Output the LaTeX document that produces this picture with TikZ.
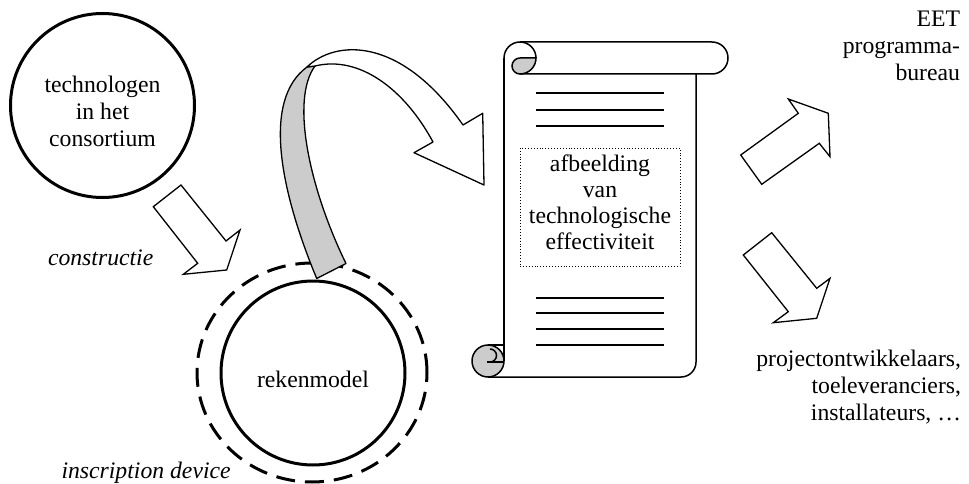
\documentclass[tikz,border=0pt]{standalone}
\usepackage{fontspec}
\setmainfont{Liberation Serif}
\usetikzlibrary{shapes.geometric}
\definecolor{curlgray}{RGB}{204,204,204}
\begin{document}
\begin{tikzpicture}[x=1pt,y=-1pt,
  every node/.style={font=\fontsize{23.7}{27}\selectfont, inner sep=0pt, outer sep=0pt},
  ring/.style={circle, draw, line width=3pt, minimum size=184pt},
  devicering/.style={ellipse, draw, line width=3pt, dash pattern=on 19pt off 10pt,
                     minimum width=230pt, minimum height=219pt},
  blockarrow/.style={draw, fill=white, line width=1.3pt, line join=miter},
  ribbon/.style={draw, line width=1.3pt, line join=round},
  scrollpart/.style={draw, line width=1.5pt},
  textline/.style={line width=1.8pt},
  caption/.style={align=center},
  sidelabel/.style={align=right, anchor=north east}]
\useasboundingbox (0,0) rectangle (969,484);

% --- actors -------------------------------------------------------------
\node[ring] (tech) at (102.5,105.5) {};
\node[caption] (techtext) at (102.5,111) {technologen\\in het\\consortium};

\node[devicering] (device) at (312,372.5) {};
\node[ring] (model) at (313,373) {};
\node (modeltext) at (313,379) {rekenmodel};

\node[anchor=base west, font=\fontsize{23.7}{27}\selectfont\itshape] (constr) at (48,265) {constructie};
\node[anchor=base west, font=\fontsize{23.7}{27}\selectfont\itshape] (inscr) at (61.5,478) {inscription device};

% --- block arrow: construction ----------------------------------------
\draw[blockarrow] (153.3,206.7) -- (181,185) -- (226,241) -- (240,230)
  -- (226.7,270) -- (183.3,274.3) -- (197.7,263.3) -- cycle;

% --- twisted ribbon arrow from the model to the scroll ------------------
\filldraw[ribbon, fill=curlgray] (316.7,278.5) .. controls (280,190) and (262,100) .. (307,67)
  -- (315,66) .. controls (290,100) and (310,190) .. (346,263.5) -- cycle;
\filldraw[ribbon, fill=white] (307,67) .. controls (335,40) and (400,35) .. (463,125)
  -- (482.7,113.3) -- (484,185) -- (414,152.7) -- (433,142)
  .. controls (405,90) and (360,55) .. (315,66) -- cycle;

% --- scroll ----------------------------------------------------------------
% top roll
\draw[scrollpart] (520,42) -- (712,42) arc[start angle=-90, end angle=90, radius=16] -- (520,74);
\draw[scrollpart] (504,58) arc[start angle=180, end angle=360, radius=16];
\filldraw[scrollpart, fill=curlgray] (536,58) arc[start angle=0, end angle=90, radius=16]
  arc[start angle=90, end angle=270, radius=8] -- cycle;
% sheet
\draw[scrollpart] (504,58) -- (504,361);
\draw[scrollpart] (696,74) -- (696,362) arc[start angle=0, end angle=90, radius=15] -- (488,377);
% bottom curl
\filldraw[scrollpart, fill=curlgray] (488,361) circle[radius=16];
\draw[scrollpart] (488,345) -- (504,345);
\draw[scrollpart] (487,362) -- (504,362);
\draw[scrollpart] (490,362) arc[start angle=90, end angle=-90, radius=6.5];
% text lines
\foreach \yy in {93.3,110,126,297.7,313.3,329,345}
  \draw[textline] (536,\yy) -- (664,\yy);
% picture frame with its caption
\node[draw, dotted, line width=0.9pt, minimum width=160pt, minimum height=118pt] (figure) at (600,207) {};
\node[caption, font=\fontsize{23.7}{26}\selectfont] (figtext) at (600,202) {afbeelding\\van\\technologische\\effectiviteit};

% --- audiences --------------------------------------------------------------
\draw[blockarrow] (740.7,155) -- (798.3,113.3) -- (788.3,99) -- (828.3,113.3)
  -- (830,156.7) -- (819.3,143.3) -- (761.7,184.3) -- cycle;
\draw[blockarrow] (771.7,232.7) -- (816.7,288.3) -- (830,278.3) -- (816.7,318.3)
  -- (773.3,322.7) -- (788.3,311.7) -- (743.3,255) -- cycle;

\node[sidelabel] (eet) at (960,10.5) {EET\\programma-\\bureau};
\node[sidelabel] (users) at (961,350.5) {projectontwikkelaars,\\toeleveranciers,\\installateurs, …};
\end{tikzpicture}
\end{document}
